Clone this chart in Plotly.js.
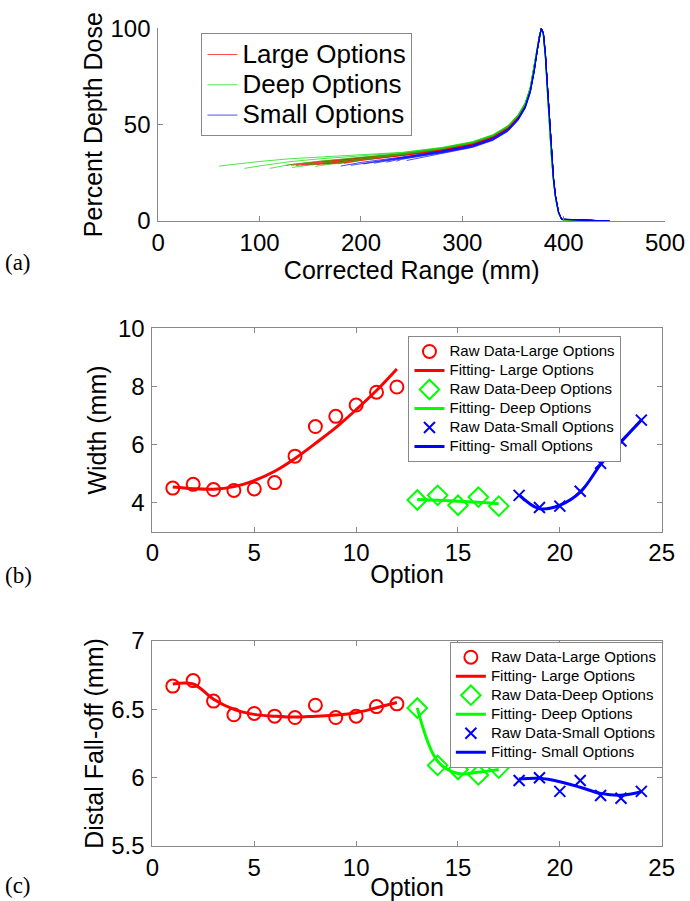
<!DOCTYPE html>
<html>
<head>
<meta charset="utf-8">
<script src="https://cdn.plot.ly/plotly-3.0.1.min.js"></script>
<style>html,body{margin:0;padding:0;background:#fff;}#chart{width:690px;height:901px;}</style>
</head>
<body>
<div id="chart"></div>
<script>
// ---------- Panel (a): depth-dose curves ----------
const depthGrid = [100,130,160,200,240,280,310,330,345,355,362,367,371,374,376,378,380,382,384,386,388,390,392,395,398,445];

const deepStartDepth = [60,85,110,132,155];
const deepStartDose  = [28.5,27.3,27.3,27.8,28.3];
const deepDose = [
 [30.9,32.3,33.2,34.3,35.6,38.2,41.2,44.8,49.5,55.2,61.4,69.2,80.2,90.2,96.2,99.8,95.8,83.6,65.6,47.6,32.2,19.8,11.4,3.7,0.7,0],
 [28.6,30.8,32.3,33.8,35.4,38.0,41.0,44.6,49.3,55.0,61.2,69.0,80.0,90.0,96.0,99.9,96.0,84.0,66.0,48.0,32.5,20.0,11.5,3.8,0.7,0],
 [null,29.3,31.1,33.0,35.1,37.8,40.8,44.4,49.1,54.8,61.0,68.8,79.8,89.9,96.0,100,96.2,84.3,66.3,48.3,32.8,20.2,11.6,3.9,0.7,0],
 [null,null,29.9,32.4,34.8,37.6,40.6,44.2,48.9,54.6,60.8,68.7,79.7,89.8,95.9,100,96.3,84.6,66.6,48.6,33.0,20.4,11.7,3.9,0.7,0],
 [null,null,28.8,31.8,34.4,37.4,40.5,44.1,48.8,54.5,60.7,68.6,79.6,89.7,95.9,100,96.4,84.8,66.9,48.9,33.2,20.5,11.8,4.0,0.7,0]
];

const largeStartDepth = [126,131,136,141,146,151,156,162,167,172,177,183];
const largeStartDose  = [28.8,28.9,28.8,28.9,29.0,29.1,29.2,29.4,29.5,29.6,29.7,29.9];
const largeDose = [
 [null,29.2,31.0,32.9,34.9,37.6,40.6,44.2,48.9,54.6,60.8,68.8,79.8,89.8,95.9,100,96.6,85.2,67.6,49.6,33.7,21.0,12.0,4.1,0.8,0],
 [null,null,30.8,32.8,34.8,37.5,40.5,44.1,48.8,54.5,60.7,68.7,79.7,89.7,95.9,100,96.7,85.3,67.8,49.8,33.8,21.1,12.1,4.1,0.8,0],
 [null,null,30.5,32.7,34.7,37.4,40.4,44.0,48.7,54.4,60.6,68.6,79.6,89.7,95.8,100,96.7,85.4,67.9,49.9,33.9,21.1,12.1,4.2,0.8,0],
 [null,null,30.2,32.6,34.6,37.3,40.3,43.9,48.6,54.3,60.5,68.5,79.6,89.6,95.8,100,96.8,85.5,68.0,50.0,34.0,21.2,12.2,4.2,0.8,0],
 [null,null,30.0,32.5,34.6,37.2,40.2,43.8,48.5,54.2,60.4,68.4,79.5,89.6,95.8,100,96.8,85.5,68.0,50.0,34.0,21.2,12.2,4.2,0.8,0],
 [null,null,29.7,32.4,34.5,37.1,40.1,43.7,48.4,54.1,60.3,68.3,79.4,89.5,95.7,100,96.9,85.6,68.1,50.1,34.1,21.3,12.3,4.2,0.8,0],
 [null,null,29.5,32.3,34.4,37.0,40.0,43.6,48.3,54.0,60.2,68.2,79.3,89.5,95.7,100,96.9,85.7,68.2,50.2,34.2,21.3,12.3,4.3,0.8,0],
 [null,null,null,32.1,34.3,36.9,39.9,43.5,48.2,53.9,60.1,68.1,79.2,89.4,95.7,100,97.0,85.8,68.3,50.3,34.3,21.4,12.4,4.3,0.8,0],
 [null,null,null,32.0,34.2,36.8,39.8,43.4,48.1,53.8,60.0,68.0,79.1,89.4,95.6,100,97.0,85.9,68.4,50.4,34.4,21.4,12.4,4.3,0.8,0],
 [null,null,null,31.8,34.1,36.7,39.7,43.3,48.0,53.7,59.9,67.9,79.0,89.3,95.6,100,97.1,86.0,68.5,50.5,34.5,21.5,12.5,4.4,0.9,0],
 [null,null,null,31.6,34.0,36.6,39.6,43.2,47.9,53.6,59.8,67.8,78.9,89.3,95.6,100,97.1,86.1,68.6,50.6,34.6,21.5,12.5,4.4,0.9,0],
 [null,null,null,31.4,33.9,36.5,39.5,43.1,47.8,53.5,59.7,67.7,78.8,89.2,95.5,100,97.2,86.2,68.7,50.7,34.7,21.6,12.6,4.4,0.9,0]
];

const smallStartDepth = [180,190,202,213,225,235,245];
const smallStartDose  = [28.5,28.9,29.6,30.0,30.5,31.0,31.4];
const smallDose = [
 [null,null,null,30.4,33.2,36.4,39.4,43.0,47.7,53.4,59.6,67.6,78.7,89.1,95.5,100,97.3,86.3,68.8,50.8,34.8,21.7,12.6,4.5,0.9,0],
 [null,null,null,29.7,33.0,36.2,39.2,42.8,47.5,53.2,59.4,67.4,78.5,89.0,95.4,100,97.4,86.5,69.0,51.0,35.0,21.9,12.7,4.5,0.9,0],
 [null,null,null,null,32.8,36.0,39.0,42.6,47.3,53.0,59.2,67.2,78.3,88.9,95.3,100,97.5,86.7,69.2,51.2,35.2,22.0,12.8,4.6,0.9,0],
 [null,null,null,null,32.6,35.8,38.8,42.4,47.1,52.8,59.0,67.0,78.1,88.8,95.3,100,97.6,86.9,69.4,51.4,35.4,22.1,12.9,4.6,0.9,0],
 [null,null,null,null,32.3,35.6,38.6,42.2,46.9,52.6,58.8,66.8,77.9,88.7,95.2,100,97.6,87.0,69.6,51.6,35.6,22.3,13.0,4.7,1.0,0],
 [null,null,null,null,32.0,35.4,38.4,42.0,46.7,52.4,58.6,66.6,77.7,88.6,95.2,100,97.7,87.2,69.8,51.8,35.8,22.4,13.1,4.7,1.0,0],
 [null,null,null,null,null,35.2,38.2,41.8,46.5,52.2,58.4,66.4,77.5,88.5,95.1,100,97.8,87.4,70.0,52.0,36.0,22.5,13.2,4.8,1.0,0]
];

// ---------- Panels (b) and (c) ----------
const optLarge = [1,2,3,4,5,6,7,8,9,10,11,12];
const optDeep  = [13,14,15,16,17];
const optSmall = [18,19,20,21,22,23,24];

const widthLargeRaw = [4.50,4.63,4.45,4.42,4.47,4.69,5.60,6.62,6.97,7.36,7.80,7.98];
const widthLargeFit = [4.54,4.48,4.46,4.55,4.76,5.08,5.52,6.04,6.58,7.20,7.86,8.60];
const widthDeepRaw  = [4.09,4.25,3.91,4.19,3.88];
const widthDeepFit  = [4.11,4.08,4.05,4.01,3.96];
const widthSmallRaw = [4.25,3.83,3.88,4.39,5.35,6.12,6.84];
const widthSmallFit = [4.27,3.79,3.91,4.36,5.31,6.09,6.84];

const falloffLargeRaw = [6.67,6.71,6.56,6.46,6.47,6.45,6.44,6.53,6.44,6.45,6.52,6.54];
const falloffLargeFit = [6.685,6.685,6.574,6.50,6.463,6.45,6.443,6.45,6.458,6.475,6.512,6.55];
const falloffDeepRaw  = [6.51,6.09,6.06,6.02,6.07];
const falloffDeepFit  = [6.51,6.12,6.03,6.04,6.06];
const falloffSmallRaw = [5.98,6.00,5.90,5.98,5.87,5.85,5.90];
const falloffSmallFit = [5.99,5.995,5.97,5.93,5.885,5.872,5.897];

const doseGroupNames = ['Large Options','Deep Options','Small Options'];
const fitLegendNames = ['Raw Data-Large Options','Fitting- Large Options','Raw Data-Deep Options',
                        'Fitting- Deep Options','Raw Data-Small Options','Fitting- Small Options'];

// ---------- build ----------
const RED='#ff0000', GREEN='#00ff00', BLUE='#0000ff';
const traces = [];
const big = s => '<span style="font-size:26px">' + s + '</span>';
const small = s => '<span style="font-size:15px">' + s + '</span>';

function addDoseGroup(starts, startDose, rows, color, name){
  rows.forEach((row, k) => {
    const x=[starts[k]], y=[startDose[k]];
    row.forEach((v,i)=>{ if(v!==null){ x.push(depthGrid[i]); y.push(v);} });
    traces.push({type:'scatter', mode:'lines', x:x, y:y, xaxis:'x', yaxis:'y',
      line:{color:color, width:1}, name:big(name), legendgroup:name,
      showlegend:k===0, legend:'legend'});
  });
}
addDoseGroup(largeStartDepth, largeStartDose, largeDose, 'rgba(255,0,0,0.7)', doseGroupNames[0]);
addDoseGroup(deepStartDepth, deepStartDose, deepDose, 'rgba(0,220,0,0.7)', doseGroupNames[1]);
addDoseGroup(smallStartDepth, smallStartDose, smallDose, 'rgba(0,0,255,0.7)', doseGroupNames[2]);

function addPanel(xa, ya, leg, data){
  data.forEach((d,i)=>{
    const nm = small(fitLegendNames[i]);
    if(d.raw){
      traces.push({type:'scatter', mode:'markers', x:d.x, y:d.y, xaxis:xa, yaxis:ya, legend:leg,
        name:nm, marker:{symbol:d.symbol, size:d.size, color:d.color, line:{color:d.color, width:2}}});
    } else {
      traces.push({type:'scatter', mode:'lines', x:d.x, y:d.y, xaxis:xa, yaxis:ya, legend:leg,
        name:nm, line:{color:d.color, width:3, shape:'spline', smoothing:1}});
    }
  });
}
addPanel('x2','y2','legend2',[
  {raw:true, x:optLarge, y:widthLargeRaw, symbol:'circle-open', size:13, color:RED},
  {raw:false, x:optLarge, y:widthLargeFit, color:RED},
  {raw:true, x:optDeep, y:widthDeepRaw, symbol:'diamond-open', size:15, color:GREEN},
  {raw:false, x:optDeep, y:widthDeepFit, color:GREEN},
  {raw:true, x:optSmall, y:widthSmallRaw, symbol:'x-thin-open', size:11, color:BLUE},
  {raw:false, x:optSmall, y:widthSmallFit, color:BLUE}
]);
addPanel('x3','y3','legend3',[
  {raw:true, x:optLarge, y:falloffLargeRaw, symbol:'circle-open', size:13, color:RED},
  {raw:false, x:optLarge, y:falloffLargeFit, color:RED},
  {raw:true, x:optDeep, y:falloffDeepRaw, symbol:'diamond-open', size:15, color:GREEN},
  {raw:false, x:optDeep, y:falloffDeepFit, color:GREEN},
  {raw:true, x:optSmall, y:falloffSmallRaw, symbol:'x-thin-open', size:11, color:BLUE},
  {raw:false, x:optSmall, y:falloffSmallFit, color:BLUE}
]);

const FONT = 'Liberation Sans, Arial, sans-serif';
const AX = '#888888';
function axis(extra){
  return Object.assign({showline:true, linecolor:AX, linewidth:1, ticks:'inside', ticklen:5, tickcolor:AX,
    showgrid:false, zeroline:false, tickfont:{family:FONT, size:24, color:'#000'}, ticklabelstandoff:0,
    fixedrange:true}, extra);
}
function legendBox(x, y, size){
  return {x:x, y:y, xanchor:'left', yanchor:'top', bgcolor:'#fff', bordercolor:AX, borderwidth:1,
    font:{family:FONT, size:size, color:'#000'}, tracegroupgap:0, itemwidth:30};
}
const serif = {family:'Liberation Serif, Times New Roman, serif', size:23, color:'#000'};

const layout = {
  width:690, height:901, margin:{l:0,r:0,t:0,b:0},
  paper_bgcolor:'#fff', plot_bgcolor:'#fff', font:{family:FONT, color:'#000'},
  hovermode:false,
  xaxis: axis({domain:[0.2294,0.9638], anchor:'y', range:[0,500], dtick:100,
    title:{text:'Corrected Range (mm)', font:{size:25}, standoff:0}}),
  yaxis: axis({domain:[0.7547,0.9686], anchor:'x', range:[0,100], dtick:50, ticklabelstandoff:2,
    title:{text:'Percent Depth Dose', font:{size:25}, standoff:0}}),
  xaxis2: axis({domain:[0.2209,0.959], anchor:'y2', range:[0,25], dtick:5, mirror:'ticks',
    title:{text:'Option', font:{size:25}, standoff:0}}),
  yaxis2: axis({domain:[0.4099,0.6356], anchor:'x2', range:[3,10], dtick:2, tick0:0, mirror:'ticks', ticklabelstandoff:2,
    title:{text:'Width (mm)', font:{size:25}, standoff:4}}),
  xaxis3: axis({domain:[0.2209,0.959], anchor:'y3', range:[0,25], dtick:5, mirror:'ticks',
    title:{text:'Option', font:{size:25}, standoff:0}}),
  yaxis3: axis({domain:[0.061,0.2886], anchor:'x3', range:[5.5,7], dtick:0.5, mirror:'ticks', ticklabelstandoff:2,
    title:{text:'Distal Fall-off (mm)', font:{size:25}, standoff:0}}),
  legend: legendBox(0.292, 0.963, 21),
  legend2: legendBox(0.592, 0.6271, 11.6),
  legend3: legendBox(0.652, 0.2878, 11.6),
  annotations:[
    {text:'(a)', xref:'paper', yref:'paper', x:0.005, y:1-262/901, xanchor:'left', yanchor:'middle', showarrow:false, font:serif},
    {text:'(b)', xref:'paper', yref:'paper', x:0.005, y:1-575/901, xanchor:'left', yanchor:'middle', showarrow:false, font:serif},
    {text:'(c)', xref:'paper', yref:'paper', x:0.005, y:1-885/901, xanchor:'left', yanchor:'middle', showarrow:false, font:serif}
  ]
};

Plotly.newPlot('chart', traces, layout, {staticPlot:true, displayModeBar:false});
</script>
</body>
</html>
